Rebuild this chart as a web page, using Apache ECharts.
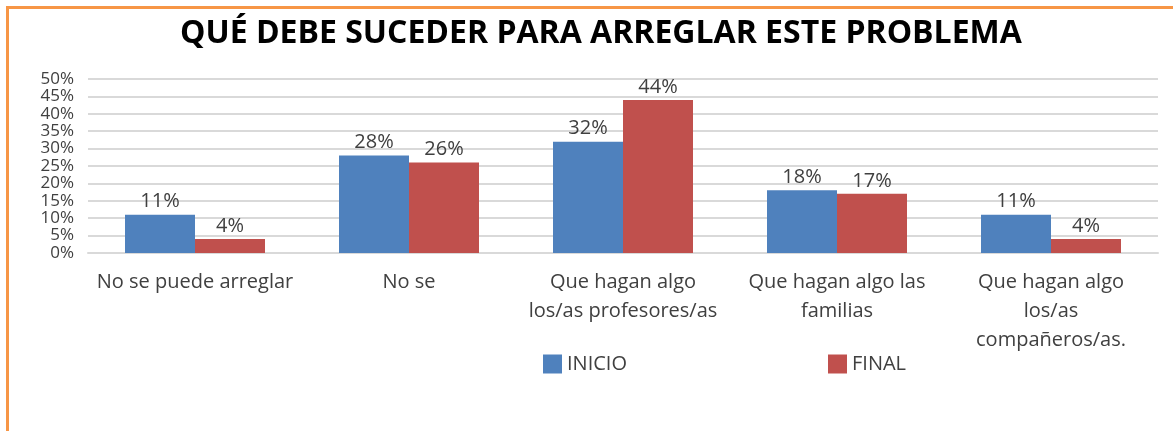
<!DOCTYPE html>
<html>
<head>
<meta charset="utf-8">
<script src="https://cdn.jsdelivr.net/npm/echarts@6/dist/echarts.min.js"></script>
<style>
  html, body { margin: 0; padding: 0; background: #fff; }
  #frame {
    position: absolute; left: 6px; top: 6px; right: 0; bottom: 0;
    border-top: 3px solid #f79646; border-left: 3px solid #f79646;
  }
  #main { position: absolute; left: 0; top: 0; width: 1173px; height: 431px; }
</style>
</head>
<body>
<div id="frame"></div>
<div id="main"></div>
<script>
// data
const categories = [
  "No se puede arreglar",
  "No se",
  "Que hagan algo\nlos/as profesores/as",
  "Que hagan algo las\nfamilias",
  "Que hagan algo\nlos/as\ncompañeros/as."
];
const inicio = [11, 28, 32, 18, 11];
const final = [4, 26, 44, 17, 4];

const font = "'Open Sans', sans-serif";
const txt = "#404040";

let chart = echarts.init(document.getElementById("main"));

let labelStyle = {
  show: true,
  position: "top",
  distance: 3,
  formatter: "{c}%",
  color: txt,
  fontSize: 20,
  fontFamily: font
};

chart.setOption({
  animation: false,
  title: {
    text: "QUÉ DEBE SUCEDER PARA ARREGLAR ESTE PROBLEMA",
    left: 175,
    top: 13,
    textStyle: { fontFamily: font, fontWeight: "bold", fontSize: 32, color: "#000" }
  },
  legend: [
    {
      data: ["INICIO"],
      left: 538, top: 349,
      itemWidth: 19, itemHeight: 19, itemGap: 6,
      icon: "rect",
      textStyle: { fontFamily: font, fontSize: 20, color: txt }
    },
    {
      data: ["FINAL"],
      left: 823, top: 349,
      itemWidth: 19, itemHeight: 19,
      icon: "rect",
      textStyle: { fontFamily: font, fontSize: 20, color: txt }
    }
  ],
  grid: { left: 88, right: 15, top: 79, bottom: 178 },
  xAxis: {
    type: "category",
    data: categories,
    axisTick: { show: false },
    axisLine: { lineStyle: { color: "#d9d9d9", width: 2 } },
    axisLabel: {
      interval: 0,
      margin: 15,
      lineHeight: 29,
      color: txt,
      fontSize: 20,
      fontFamily: font
    }
  },
  yAxis: {
    type: "value",
    min: 0,
    max: 50,
    interval: 5,
    axisLabel: {
      formatter: "{value}%",
      color: txt,
      fontSize: 17,
      fontFamily: font,
      margin: 14
    },
    splitLine: { lineStyle: { color: "#d9d9d9", width: 2 } }
  },
  series: [
    {
      name: "INICIO",
      type: "bar",
      data: inicio,
      barWidth: 70,
      barGap: "0%",
      itemStyle: { color: "#4f81bd" },
      label: labelStyle
    },
    {
      name: "FINAL",
      type: "bar",
      data: final,
      barWidth: 70,
      itemStyle: { color: "#c0504d" },
      label: labelStyle
    }
  ]
});
</script>
</body>
</html>
